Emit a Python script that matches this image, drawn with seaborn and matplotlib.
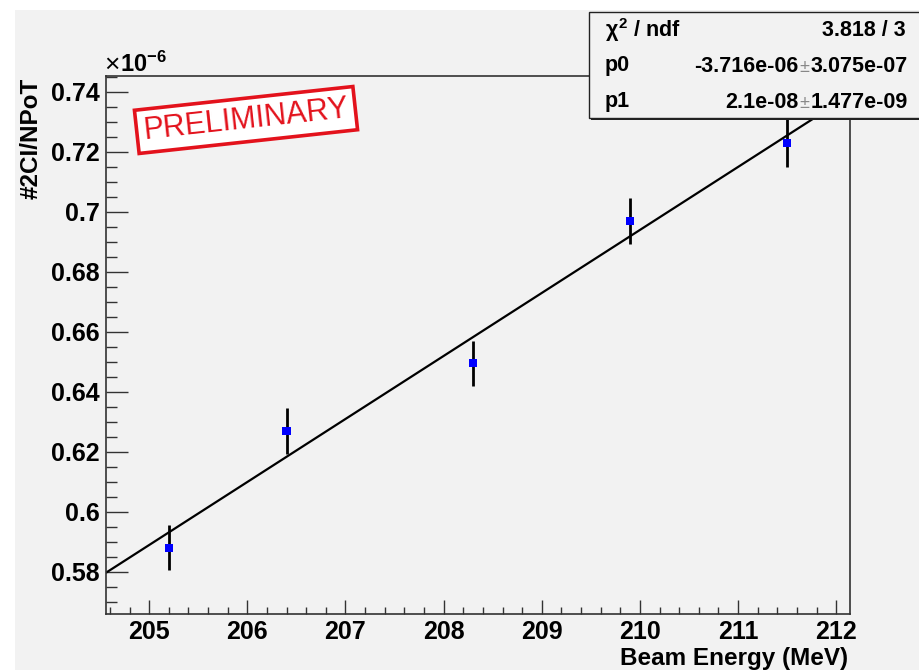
import numpy as np
import matplotlib
matplotlib.use("Agg")
import matplotlib.pyplot as plt
from matplotlib.patches import Rectangle
from matplotlib.ticker import MultipleLocator, FuncFormatter
import seaborn as sns

# Beam energy scan: 2-cluster rate per proton on target (units of 1e-6)
beam_energy = [205.2, 206.4, 208.3, 209.9, 211.5]
rate = [0.5881, 0.6270, 0.6496, 0.6970, 0.7229]
rate_err = [0.0075, 0.0076, 0.0075, 0.0076, 0.0080]

# Linear fit result: rate = p0 + p1 * E
chi2_ndf = "3.818 / 3"
p0, p0_err = -3.716e-06, 3.075e-07
p1, p1_err = 2.1e-08, 1.477e-09
scale = 1e-6

W, H = 919, 670
bg = "#f2f2f2"

sns.set_theme(style="ticks")
plt.rcParams["font.family"] = ["Liberation Sans", "DejaVu Sans"]
plt.rcParams["font.weight"] = "bold"
plt.rcParams["text.color"] = "black"
plt.rcParams["mathtext.fontset"] = "custom"
plt.rcParams["mathtext.rm"] = "Liberation Sans:bold"
plt.rcParams["mathtext.bf"] = "Liberation Sans:bold"
plt.rcParams["mathtext.it"] = "Liberation Sans"

fig = plt.figure(figsize=(W / 100, H / 100), dpi=100, facecolor="white")


def px(x, y):
    return x / W, 1 - y / H


# canvas background
fig.patches.append(Rectangle(px(15, H), (W - 15) / W, (H - 10) / H,
                             transform=fig.transFigure, facecolor=bg,
                             edgecolor="none", zorder=-10))

l, r, t, b = 106, 850, 76, 614
ax = fig.add_axes([l / W, 1 - b / H, (r - l) / W, (b - t) / H])
ax.set_facecolor(bg)

x_lo, x_hi = 204.56, 212.14
y_lo, y_hi = 0.566, 0.7453

# fit line
xs = np.linspace(x_lo, x_hi, 200)
sns.lineplot(x=xs, y=(p0 + p1 * xs) / scale, ax=ax, color="black", lw=1.6, zorder=2)

# data with vertical error bars
ax.errorbar(beam_energy, rate, yerr=rate_err, fmt="none", ecolor="black",
            elinewidth=2.0, capsize=0, zorder=3)
sns.scatterplot(x=beam_energy, y=rate, ax=ax, marker="s", color="#0000ff",
                s=36, edgecolor="none", zorder=4, legend=False)

ax.set_xlim(x_lo, x_hi)
ax.set_ylim(y_lo, y_hi)
ax.set_xlabel("")
ax.set_ylabel("")

ax.xaxis.set_major_locator(MultipleLocator(1))
ax.xaxis.set_minor_locator(MultipleLocator(0.2))
ax.yaxis.set_major_locator(MultipleLocator(0.02))
ax.yaxis.set_minor_locator(MultipleLocator(0.005))
ax.yaxis.set_major_formatter(FuncFormatter(lambda v, _: f"{v:g}"))
ax.xaxis.set_major_formatter(FuncFormatter(lambda v, _: f"{v:g}"))

ax.tick_params(axis="x", which="major", direction="in", length=10, width=1,
               color="#333333", labelsize=18, labelcolor="black", pad=4)
ax.tick_params(axis="x", which="minor", direction="in", length=5, width=1,
               color="#333333")
ax.tick_params(axis="y", which="major", direction="in", length=15.5, width=1,
               color="#333333", labelsize=18, labelcolor="black", pad=4.5)
ax.tick_params(axis="y", which="minor", direction="in", length=8, width=1,
               color="#333333")
for lab in ax.get_xticklabels() + ax.get_yticklabels():
    lab.set_fontweight("bold")

for s in ax.spines.values():
    s.set_visible(True)
    s.set_color("#333333")
    s.set_linewidth(1.2)

# axis titles
fig.text(*px(848, 665), "Beam Energy (MeV)", ha="right", va="baseline",
         fontsize=17.5, fontweight="bold", color="black")
fig.text(*px(31, 78), "#2CI/NPoT", ha="center", va="top", rotation=90,
         fontsize=17.5, fontweight="bold", color="black")
# axis multiplier
fig.text(*px(104, 72), "\u00d7", ha="left", va="baseline",
         fontsize=19, fontweight="normal", color="black")
fig.text(*px(120, 72), r"10$^{-6}$", ha="left", va="baseline",
         fontsize=17, color="black")

# preliminary stamp
fig.text(*px(246, 120), "PRELIMINARY", ha="center", va="center",
         rotation=6.2, rotation_mode="anchor",
         family=["Liberation Sans", "DejaVu Sans"], fontweight="normal",
         fontsize=22, color="#e3121c", zorder=20,
         bbox=dict(boxstyle="square,pad=0.22", facecolor="white",
                   edgecolor="#e3121c", linewidth=2.6))

# fit statistics box
bx0, by0, bx1, by1 = 589, 12, 925, 118
fig.patches.append(Rectangle(px(bx0 + 2, by1 + 2), (bx1 - bx0) / W, (by1 - by0) / H,
                             transform=fig.transFigure, facecolor="#222222",
                             edgecolor="none", zorder=15))
fig.patches.append(Rectangle(px(bx0, by1), (bx1 - bx0) / W, (by1 - by0) / H,
                             transform=fig.transFigure, facecolor=bg,
                             edgecolor="#222222", linewidth=1.0, zorder=16))

fs = 15.5
fig.text(*px(605, 30), r"$\chi^{2}$ / ndf", ha="left", va="center",
         fontsize=fs, fontweight="bold", zorder=17)
fig.text(*px(906, 30), chi2_ndf, ha="right", va="center",
         fontsize=fs, fontweight="bold", zorder=17)

rows = [("p0", p0, p0_err, 66, "{:.3e}", "{:.3e}"),
        ("p1", p1, p1_err, 102, "{:.1e}", "{:.3e}")]
for name, val, err, yy, vfmt, efmt in rows:
    fig.text(*px(605, yy), name, ha="left", va="center",
             fontsize=fs, fontweight="bold", zorder=17)
    fig.text(*px(798, yy), vfmt.format(val), ha="right", va="center",
             fontsize=fs, fontweight="bold", zorder=17)
    fig.text(*px(804.5, yy + 1), "\u00b1", ha="center", va="center",
             fontsize=13, fontweight="normal", color="#888888", zorder=17)
    fig.text(*px(811, yy), efmt.format(err), ha="left", va="center",
             fontsize=fs, fontweight="bold", zorder=17)

fig.savefig("out.png", dpi=100, facecolor=fig.get_facecolor())
